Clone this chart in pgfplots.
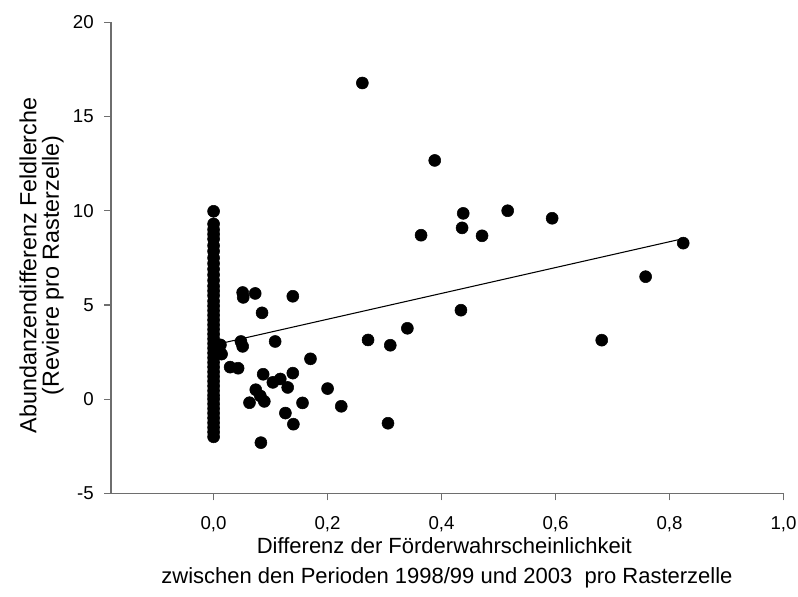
\documentclass[border=0pt]{standalone}
\usepackage{fontspec}
\setmainfont{Liberation Sans}
\usepackage{pgfplots}
\pgfplotsset{compat=1.18}
\definecolor{axgray}{RGB}{110,110,110}
\begin{document}
\begin{tikzpicture}
\useasboundingbox (-83.25pt,-77pt) rectangle (515.25pt,370pt);
\begin{axis}[
  at={(0,0)}, anchor=south west,
  scale only axis,
  width=504.4pt, height=353.25pt,
  xmin=-0.18, xmax=1.0,
  ymin=-5, ymax=20,
  axis x line=bottom, axis y line=left,
  axis line style={-, axgray, line width=0.9pt},
  tick style={axgray, line width=0.9pt},
  tick align=outside,
  major tick length=5.25pt,
  xtick={0,0.2,0.4,0.6,0.8,1.0},
  ytick={-5,0,5,10,15,20},
  minor tick num=0,
  clip=false,
  /pgf/number format/assume math mode=true,
  xticklabel style={font=\fontsize{14}{16}\selectfont, inner sep=0pt, anchor=north,
    /pgf/number format/.cd, fixed, fixed zerofill, precision=1, use comma},
  yticklabel style={font=\fontsize{14}{16}\selectfont, inner sep=0pt, anchor=east},
  xticklabel shift=12pt,
  yticklabel shift=7.5pt,
]
\addplot[only marks, mark=*, mark size=4.5pt, black, mark options={fill=black, draw=black}] coordinates {
(0,9.97) (0,9.3) (0,9.0) (0,8.75) (0,8.5) (0,8.15) (0,7.85) (0,7.5) (0,7.2) (0,6.9)
(0,6.6) (0,6.3) (0,6.0) (0,5.75) (0,5.5) (0,5.2) (0,4.95) (0,4.7) (0,4.45) (0,4.2)
(0,3.95) (0,3.7) (0,3.45) (0,3.2) (0,2.95) (0,2.7) (0,2.45) (0,2.2) (0,1.95) (0,1.7)
(0,1.45) (0,1.2) (0,0.95) (0,0.7) (0,0.45) (0,0.2) (0,0.0) (0,-0.25) (0,-0.5) (0,-0.75)
(0,-1.0) (0,-1.25) (0,-1.5) (0,-1.75) (0,-2.0)
(0.012,2.88) (0.014,2.39) (0.029,1.70) (0.043,1.64) (0.048,3.06) (0.051,2.80)
(0.051,5.66) (0.052,5.40) (0.073,5.61) (0.085,4.58) (0.108,3.06) (0.139,5.46)
(0.087,1.32) (0.139,1.38) (0.104,0.89) (0.117,1.07) (0.130,0.62) (0.074,0.50)
(0.082,0.17) (0.089,-0.12) (0.063,-0.19) (0.126,-0.74) (0.140,-1.33) (0.083,-2.31)
(0.156,-0.20) (0.170,2.14) (0.200,0.56) (0.224,-0.38) (0.306,-1.28) (0.271,3.14)
(0.310,2.86) (0.340,3.76) (0.434,4.72) (0.261,16.78) (0.388,12.67) (0.364,8.70)
(0.436,9.09) (0.438,9.86) (0.471,8.67) (0.516,10.0) (0.594,9.60) (0.681,3.13)
(0.758,6.50) (0.824,8.28)
};
\addplot[black, line width=0.8pt, no marks] coordinates {(0,2.87) (0.824,8.52)};
\end{axis}
\node[anchor=base, font=\fontsize{16.5}{18}\selectfont] at (250pt,-44.8pt) {Differenz der Förderwahrscheinlichkeit};
\node[anchor=base, font=\fontsize{16.5}{18}\selectfont] at (252pt,-67.5pt) {zwischen den Perioden 1998/99 und 2003\ \ pro Rasterzelle};
\node[anchor=base, rotate=90, font=\fontsize{17.5}{20}\selectfont] at (-56pt,171pt) {Abundanzendifferenz Feldlerche};
\node[anchor=base, rotate=90, font=\fontsize{17.5}{20}\selectfont] at (-39pt,171pt) {(Reviere pro Rasterzelle)};
\end{tikzpicture}
\end{document}
